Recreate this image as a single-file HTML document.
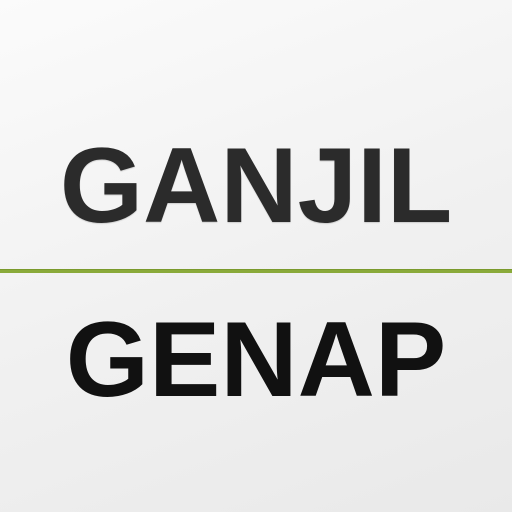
<!DOCTYPE html>
<html><head><meta charset="utf-8"><style>
html,body{margin:0;padding:0}
body{width:512px;height:512px;overflow:hidden;position:relative;background:linear-gradient(160deg,#fbfbfb 0%,#f1f1f1 50%,#e9e9e9 100%);font-family:"Liberation Sans",sans-serif;font-weight:bold}
.t{position:absolute;left:0;width:512px;text-align:center;font-size:107px;line-height:1}
</style></head><body>
<div class="t" style="top:132px;color:#2b2b2b;text-shadow:0 1px 1px rgba(0,0,0,0.15)">GANJIL</div>
<div style="position:absolute;left:0;top:269px;width:512px;height:3px;background:#8aaa3a;border-top:1px solid #7a9a2c"></div>
<div class="t" style="top:306px;color:#111">GENAP</div>
</body></html>
